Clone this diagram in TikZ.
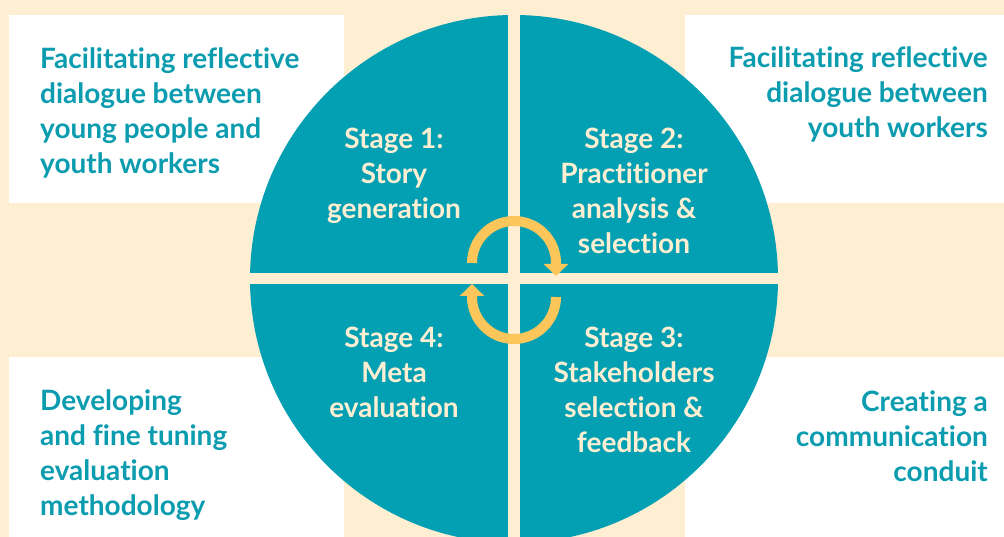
\documentclass[tikz,border=0pt]{standalone}
\usepackage{fontspec}
\setmainfont{Lato}[Ligatures=NoCommon]
\usepackage{tikz}
\usetikzlibrary{arrows.meta}

\definecolor{paper}{HTML}{FEEFD3}
\definecolor{wheelteal}{HTML}{039FB2}
\definecolor{labelteal}{HTML}{0B9CAF}
\definecolor{ringyellow}{HTML}{FCC65B}

\begin{document}
\begin{tikzpicture}[x=1pt,y=1pt,
    corner text/.style={font=\bfseries\fontsize{28}{35}\selectfont,text=labelteal,inner sep=0pt},
    stage text/.style={font=\bfseries\fontsize{28}{35}\selectfont,text=paper,align=center,inner sep=0pt},
    cycle arrow/.style={draw=ringyellow,line width=10pt,-{Triangle[width=24pt,length=12pt]}}]

  \useasboundingbox (0,0) rectangle (1004,537);
  \fill[paper] (0,0) rectangle (1004,537);

  % white panels
  \fill[white] (9,334) rectangle (344,522);
  \fill[white] (685,334) rectangle (1004,522);
  \fill[white] (9,0) rectangle (344,180);
  \fill[white] (685,0) rectangle (1004,180);

  % the wheel, cut in four
  \fill[wheelteal] (514,258) circle (264);
  \fill[paper] (508,-10) rectangle (520,530);
  \fill[paper] (240,253) rectangle (790,264);

  \node[corner text,anchor=west,align=left] (goal1) at (40,424.5)
    {Facilitating reflective\\dialogue between\\young people and\\youth workers};
  \node[corner text,anchor=east,align=right] (goal2) at (988,442.5)
    {Facilitating reflective\\dialogue between\\youth workers};
  \node[corner text,anchor=west,align=left] (goal4) at (40,81.5)
    {Developing\\and fine tuning\\evaluation\\methodology};
  \node[corner text,anchor=east,align=right] (goal3) at (988,101)
    {Creating a\\communication\\conduit};

  \node[stage text] (stage1) at (394,361) {Stage 1:\\Story\\generation};
  \node[stage text] (stage2) at (634,346) {Stage 2:\\Practitioner\\analysis \&\\selection};
  \node[stage text] (stage3) at (634,147.5) {Stage 3:\\Stakeholders\\selection \&\\feedback};
  \node[stage text] (stage4) at (394,164.5) {Stage 4:\\Meta\\evaluation};

  % cycle in the middle
  \draw[cycle arrow] (472,274) arc (180:0:42) -- ++(0,-13);
  \draw[cycle arrow] (556,240) arc (0:-180:42) -- ++(0,13);
\end{tikzpicture}
\end{document}
